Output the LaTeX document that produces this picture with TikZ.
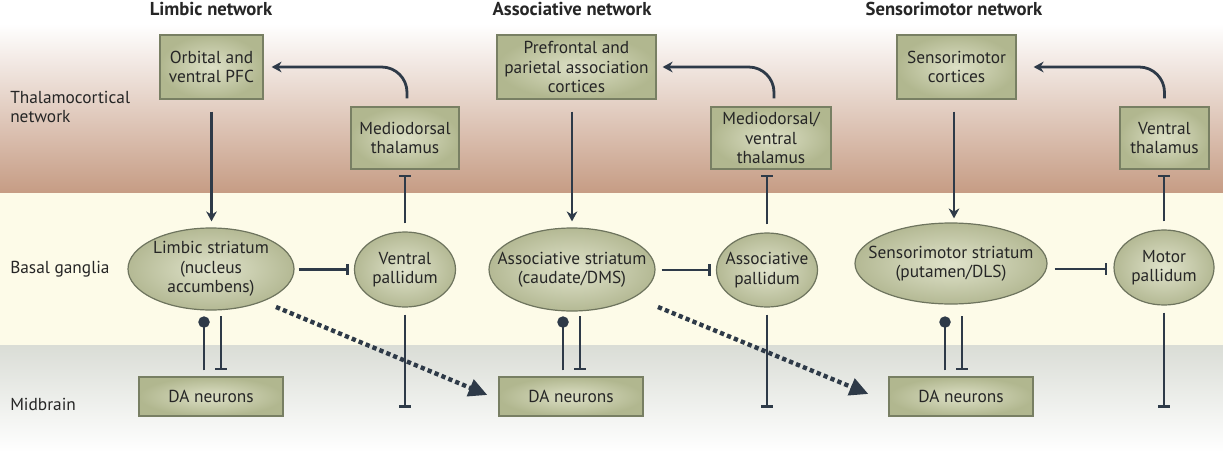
\documentclass[tikz,border=0pt]{standalone}
\usepackage{fontspec}
\setmainfont{PT Sans}
\usetikzlibrary{arrows.meta,shapes.geometric,calc}
\definecolor{ln}{HTML}{2E3A48}
\definecolor{txt}{HTML}{262626}
\definecolor{boxin}{HTML}{DDE0C6}
\definecolor{boxout}{HTML}{B1B78F}
\definecolor{boxbd}{HTML}{787F63}
\definecolor{ellin}{HTML}{E0E3CB}
\definecolor{ellout}{HTML}{B4B994}
\definecolor{ellbd}{HTML}{6E745E}
\definecolor{thalc}{HTML}{C69C84}
\definecolor{cream}{HTML}{FDFBE8}
\definecolor{midtop}{HTML}{DADDD6}
\begin{document}
\begin{tikzpicture}[x=0.75pt,y=-0.75pt,
  lab/.style={font=\fontsize{13}{14.5}\selectfont, text=txt},
  ttl/.style={font=\fontsize{14}{16}\selectfont\bfseries, text=txt},
  side/.style={lab, anchor=west, align=left, inner sep=0pt},
  box/.style={lab, rectangle, draw=boxbd, line width=0.9pt, inner color=boxin, outer color=boxout, align=center, inner sep=0pt},
  ell/.style={lab, ellipse, draw=ellbd, line width=0.9pt, inner color=ellin, outer color=ellout, align=center, inner xsep=-14pt, inner ysep=-10pt},
  con/.style={draw=ln, line width=2.1pt},
  arr/.style={con, -{Stealth[length=7.5pt,width=8pt]}},
  inh/.style={con, -{Bar[width=8.5pt,line width=2.1pt]}},
  dotend/.style={con, -{Circle[length=8.5pt]}},
  dots/.style={draw=ln, line width=3.3pt, dash pattern=on 3.2pt off 2.4pt, -{Triangle[length=14pt,width=13pt]}}
]
\useasboundingbox (0,0) rectangle (1223,460);
% backgrounds
\fill[white] (0,0) rectangle (1223,460);
\shade[top color=white, bottom color=thalc] (0,24) rectangle (1223,193);
\fill[cream] (0,193) rectangle (1223,345);
\shade[top color=midtop, bottom color=white] (0,345) rectangle (1223,452);

% titles
\node[ttl] (t1) at (211,9) {Limbic network};
\node[ttl] (t2) at (572,9) {Associative network};
\node[ttl] (t3) at (954,9) {Sensorimotor network};

% side labels
\node[side] (s1) at (10,107) {Thalamocortical\\network};
\node[side] (s2) at (10,269) {Basal ganglia};
\node[side] (s3) at (10,404) {Midbrain};

% Limbic column
\node[box, minimum width=77.25pt, minimum height=48pt] (pfc1) at (211.5,67) {Orbital and\\ventral PFC};
\node[box, minimum width=81pt, minimum height=46.5pt] (md1) at (405,138) {Mediodorsal\\thalamus};
\node[ell, minimum width=124.5pt, minimum height=61.5pt] (str1) at (211,269) {Limbic striatum\\(nucleus\\accumbens)};
\node[ell, minimum width=75.75pt, minimum height=56.25pt] (pal1) at (405,269.5) {Ventral\\pallidum};
\node[box, minimum width=108pt, minimum height=29.25pt] (da1) at (211,396.5) {DA neurons};

% Associative column
\node[box, minimum width=119.25pt, minimum height=48pt] (pfc2) at (576.5,67) {Prefrontal and\\parietal association\\cortices};
\node[box, minimum width=90pt, minimum height=46.5pt] (md2) at (771,138) {Mediodorsal/\\ventral\\thalamus};
\node[ell, minimum width=124.5pt, minimum height=62.25pt] (str2) at (572,269.5) {Associative striatum\\(caudate/DMS)};
\node[ell, minimum width=75.75pt, minimum height=55.5pt] (pal2) at (767,270) {Associative\\pallidum};
\node[box, minimum width=108pt, minimum height=29.25pt] (da2) at (571,396.5) {DA neurons};

% Sensorimotor column
\node[box, minimum width=89.25pt, minimum height=48pt] (pfc3) at (956.5,67) {Sensorimotor\\cortices};
\node[box, minimum width=66.75pt, minimum height=46.5pt] (md3) at (1164.5,138) {Ventral\\thalamus};
\node[ell, minimum width=144pt, minimum height=60.75pt] (str3) at (951,263.5) {Sensorimotor striatum\\(putamen/DLS)};
\node[ell, minimum width=75pt, minimum height=56.25pt] (pal3) at (1164,267.5) {Motor\\pallidum};
\node[box, minimum width=108pt, minimum height=29.25pt] (da3) at (961,396.5) {DA neurons};

% free ends
\coordinate (e1) at (405,408);
\coordinate (e2) at (767,408);
\coordinate (e3) at (1164,408);
\coordinate (d1s) at (276,307);
\coordinate (d2s) at (658,307);

% cortex -> striatum
\draw[arr] ($(pfc1.south)+(0,12)$) -- ($(str1.north -| pfc1.south)+(0,-6)$);
\draw[arr] ($(pfc2.south -| str2.north)+(0,12)$) -- ($(str2.north)+(0,-6)$);
\draw[arr] ($(pfc3.south -| 954,0)+(0,12)$) -- ($(str3.north -| 954,0)+(0,-4)$);

% thalamus -> cortex (curved)
\draw[arr, rounded corners=19pt] ($(md1.north)+(2,-8)$) |- ($(pfc1.east)+(8,0)$);
\draw[arr, rounded corners=19pt] ($(md2.north)+(3,-8)$) |- ($(pfc2.east)+(6,0)$);
\draw[arr, rounded corners=19pt] ($(md3.north)+(0,-8)$) |- ($(pfc3.east)+(17,0)$);

% striatum -| pallidum
\draw[inh] ($(str1.east |- pal1.west)+(4,0)$) -- ($(pal1.west)+(-5,0)$);
\draw[inh] ($(str2.east |- pal2.west)+(6,0)$) -- ($(pal2.west)+(-5,0)$);
\draw[inh] ($(str3.east |- 0,269)+(7,0)$) -- ($(pal3.west |- 0,269)+(-6,0)$);

% pallidum -| thalamus
\draw[inh] ($(pal1.north)+(0,-8)$) -- ($(md1.south -| pal1.north)+(0,5)$);
\draw[inh] ($(pal2.north)+(0,-8)$) -- ($(md2.south -| pal2.north)+(0,5)$);
\draw[inh] ($(pal3.north)+(0,-8)$) -- ($(md3.south -| pal3.north)+(0,5)$);

% pallidum -| midbrain output
\draw[inh] ($(pal1.south)+(0,7)$) -- (e1);
\draw[inh] ($(pal2.south)+(0,7)$) -- (e2);
\draw[inh] ($(pal3.south)+(0,7)$) -- (e3);

% DA <-> striatum
\draw[dotend] ($(da1.north)+(-7,-6)$) -- ($(da1.north)+(-7,-60)$);
\draw[inh] ($(da1.north)+(10,-60)$) -- ($(da1.north)+(10,-6)$);
\draw[dotend] ($(da2.north)+(-8,-6)$) -- ($(da2.north)+(-8,-60)$);
\draw[inh] ($(da2.north)+(9,-60)$) -- ($(da2.north)+(9,-6)$);
\draw[dotend] ($(da3.north)+(-16,-6)$) -- ($(da3.north)+(-16,-60)$);
\draw[inh] ($(da3.north)+(1,-60)$) -- ($(da3.north)+(1,-6)$);

% spiralling dotted projections
\draw[dots] (d1s) -- ($(da2.west)+(-11,-1.5)$);
\draw[dots] (d2s) -- ($(da3.west)+(-20,-2.5)$);
\end{tikzpicture}
\end{document}
